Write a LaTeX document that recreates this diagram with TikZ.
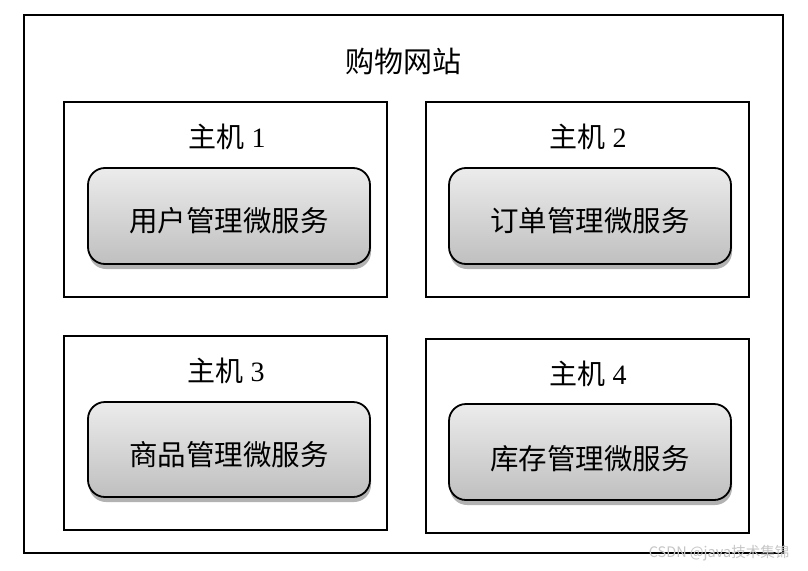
\documentclass[tikz,border=0pt]{standalone}
\usepackage{fontspec}
\setmainfont{Liberation Serif}
\newfontfamily\cjk{Noto Sans CJK SC}
\usetikzlibrary{shadows}
\begin{document}
\begin{tikzpicture}[x=1pt,y=-1pt,
  frame/.style={draw=black, line width=1.8pt},
  hostbox/.style={draw=black, line width=1.5pt},
  svcbox/.style={draw=black, line width=1.8pt, rounded corners=17pt,
     top color=gray!15, bottom color=gray!50,
     drop shadow={shadow xshift=1pt, shadow yshift=-5pt, opacity=0.3, fill=black}},
  hostlabel/.style={font=\fontsize{28}{30}\selectfont},
  svclabel/.style={font=\cjk\fontsize{28.5}{32}\selectfont},
  titlelabel/.style={font=\cjk\fontsize{29}{32}\selectfont}]
\useasboundingbox (0,0) rectangle (808,570);
\fill[white] (0,0) rectangle (808,570);
\draw[frame] (24,15) rectangle (783,553);
\node[titlelabel] (title) at (403,61) {购物网站};
% hosts
\draw[hostbox] (64,102) rectangle (387,297);
\draw[hostbox] (426,102) rectangle (749,297);
\draw[hostbox] (64,336) rectangle (387,530);
\draw[hostbox] (426,339) rectangle (749,533);
\node[hostlabel] (h1) at (227,137) {{\cjk 主机} 1};
\node[hostlabel] (h2) at (588,137) {{\cjk 主机} 2};
\node[hostlabel] (h3) at (226,371) {{\cjk 主机} 3};
\node[hostlabel] (h4) at (588,374) {{\cjk 主机} 4};
% services
\path[svcbox] (88,168) rectangle (370,264);
\path[svcbox] (449,168) rectangle (731,264);
\path[svcbox] (88,402) rectangle (370,497);
\path[svcbox] (449,404) rectangle (731,500);
\node[svclabel] (s1) at (229,221) {用户管理微服务};
\node[svclabel] (s2) at (590,221) {订单管理微服务};
\node[svclabel] (s3) at (229,455) {商品管理微服务};
\node[svclabel] (s4) at (590,459) {库存管理微服务};
% watermark
\node[text=gray!45, font=\cjk\fontsize{14.5}{16}\selectfont] (wm) at (719,553) {CSDN @java技术集锦};
\end{tikzpicture}
\end{document}
